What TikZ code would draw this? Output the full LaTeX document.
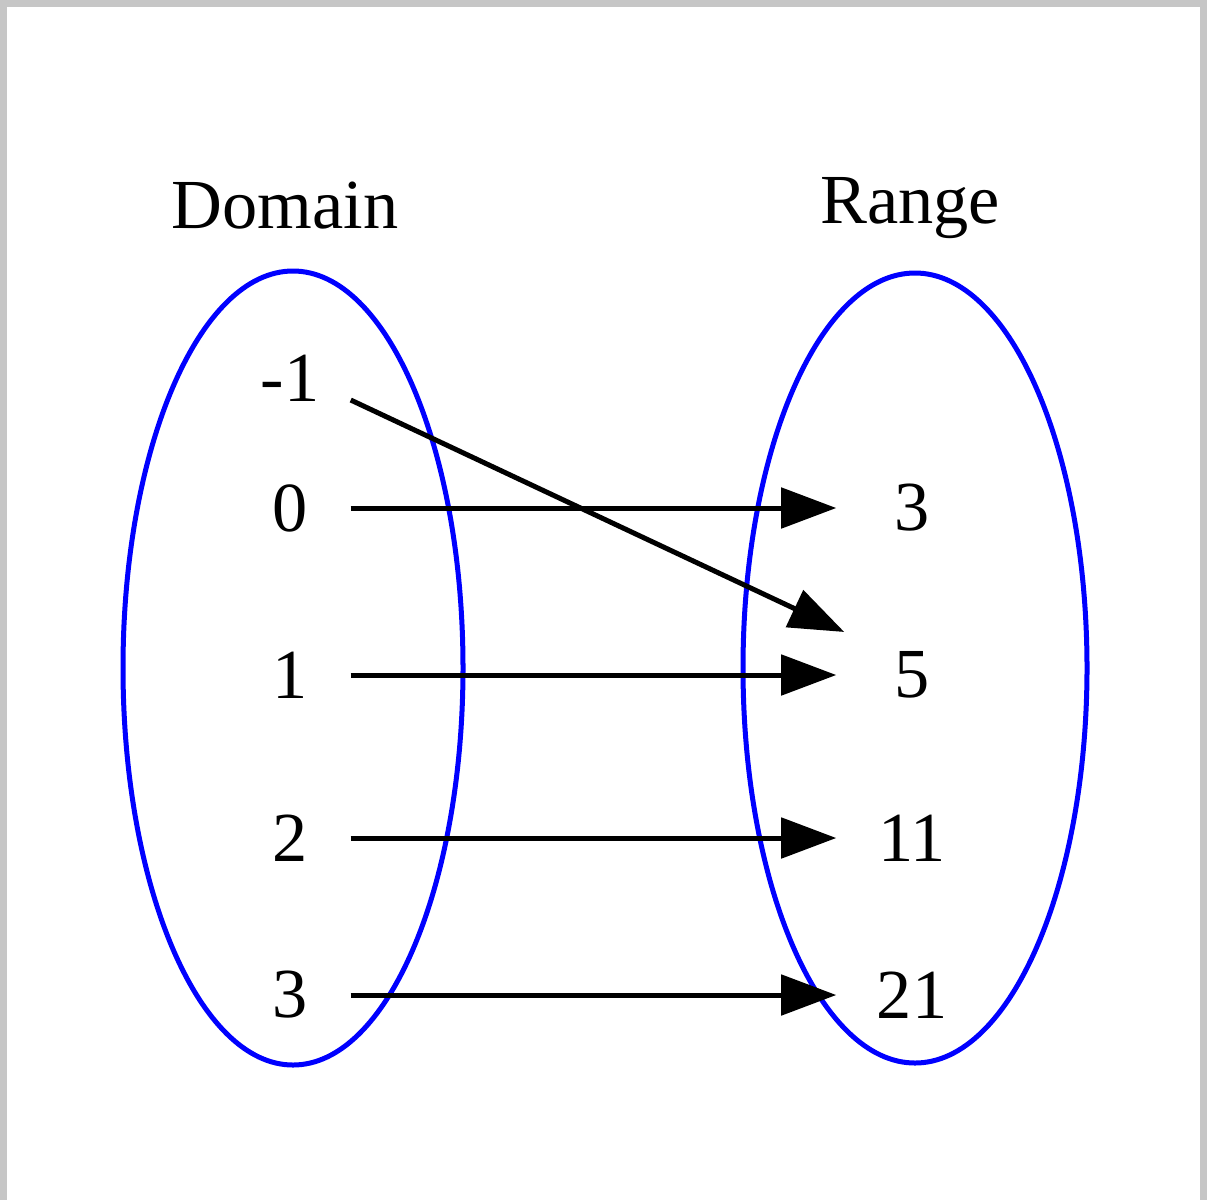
\documentclass[tikz,border=0pt]{standalone}
\usepackage{fontspec}
\setmainfont{Liberation Serif}
\usetikzlibrary{arrows.meta}
\begin{document}
\begin{tikzpicture}[x=0.01cm,y=-0.01cm,
  lab/.style={font=\fontsize{20}{24}\selectfont, inner sep=0pt},
  lnum/.style={lab, minimum width=1.2cm},
  rnum/.style={lab, minimum width=1.5cm},
  set/.style={draw=blue, line width=0.05cm},
  arr/.style={line width=0.05cm, -{Triangle[length=0.55cm,width=0.4cm]}}]
\useasboundingbox (0,0) rectangle (1207,1200);
\fill[gray!45] (0,0) rectangle (1207,1200);
\fill[white] (7,7) rectangle (1200,1200);
\draw[set] (293,668) ellipse [x radius=170, y radius=397];
\draw[set] (915,668) ellipse [x radius=172, y radius=395];
\node[lab, anchor=base] (dom) at (285,228) {Domain};
\node[lab, anchor=base] (ran) at (910,223) {Range};
\node[lnum] (lm1) at (290,378) {-1};
\node[lnum] (l0) at (290,508) {0};
\node[lnum] (l1) at (290,675) {1};
\node[lnum] (l2) at (290,838) {2};
\node[lnum] (l3) at (290,995) {3};
\node[rnum] (r3) at (912,508) {3};
\node[rnum] (r5) at (912,675) {5};
\node[rnum] (r11) at (912,838) {11};
\node[rnum] (r21) at (912,995) {21};
\draw[arr] ([yshift=-0.22cm]lm1.east) -- ([xshift=0.08cm,yshift=0.43cm]r5.west);
\draw[arr] (l0.east) -- (r3.west);
\draw[arr] (l1.east) -- (r5.west);
\draw[arr] (l2.east) -- (r11.west);
\draw[arr] (l3.east) -- (r21.west);
\end{tikzpicture}
\end{document}
